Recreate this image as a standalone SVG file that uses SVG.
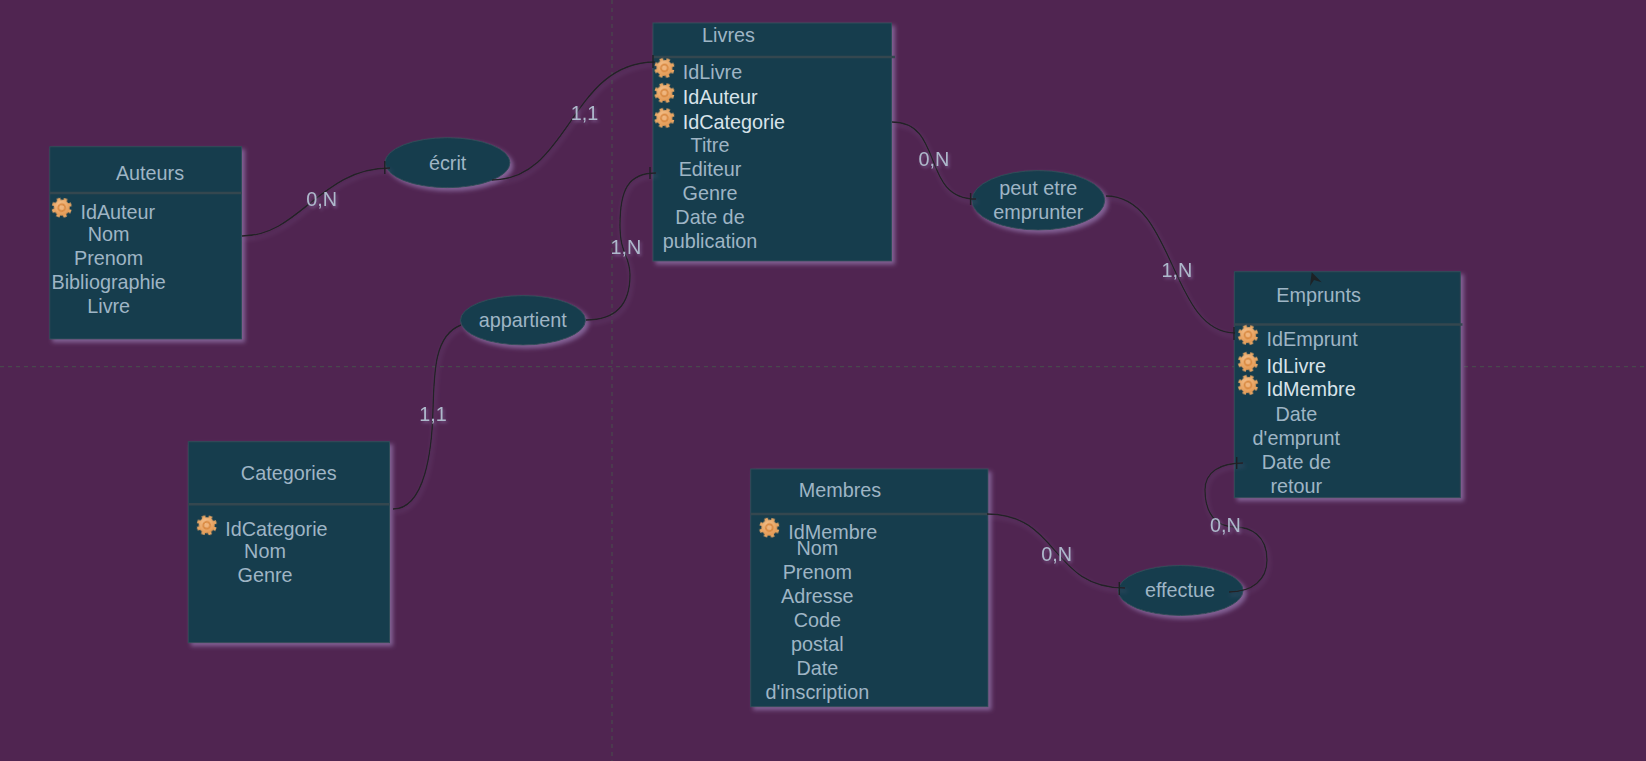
<svg xmlns="http://www.w3.org/2000/svg" xmlns:xlink="http://www.w3.org/1999/xlink" width="1646" height="761" viewBox="0 0 1646 761">
<style>
text{font-family:"Liberation Sans",Arial,sans-serif;font-size:19.8px;fill:#9fb5c5}
.m{text-anchor:middle}
.w{fill:#d8e3ea}
.box{fill:#193c4d;stroke:#2f4d58;stroke-width:1;filter:url(#sh)}
.div{stroke:#34474f;stroke-width:2.5;fill:none}
.edge{fill:none;stroke:#232125;stroke-width:1.4;filter:url(#lsh)}
.tick{fill:none;stroke:#1f2024;stroke-width:1.4}
.grid{stroke:#47504d;stroke-width:1;stroke-dasharray:4 4;fill:none}
.lab{text-anchor:middle;fill:#aeb9cc;filter:url(#tsh)}
</style>
<defs>
<filter id="sh" x="-10%" y="-10%" width="125%" height="125%"><feDropShadow dx="3" dy="3" stdDeviation="2.2" flood-color="#8f70a6" flood-opacity="0.8"/></filter>
<filter id="lsh" x="-10%" y="-10%" width="125%" height="125%"><feDropShadow dx="1.5" dy="3" stdDeviation="2" flood-color="#8f70a6" flood-opacity="0.4"/></filter>
<filter id="tsh" x="-20%" y="-20%" width="150%" height="150%"><feDropShadow dx="1.5" dy="2" stdDeviation="1.8" flood-color="#8f70a6" flood-opacity="0.55"/></filter>
<filter id="soft" x="-20%" y="-20%" width="140%" height="140%"><feGaussianBlur stdDeviation="0.35"/></filter>
<radialGradient id="gearFill" cx="40%" cy="35%" r="75%"><stop offset="0" stop-color="#f6c490"/><stop offset="1" stop-color="#e0924a"/></radialGradient>
<g id="gear" filter="url(#soft)" transform="rotate(12)">
<circle r="8.6" fill="none" stroke="#e9a764" stroke-width="3" stroke-dasharray="3.4 3.35"/>
<circle r="8" fill="url(#gearFill)"/>
<circle r="3.5" fill="none" stroke="#d98a42" stroke-width="1.8"/>
<circle r="1.9" fill="#efb57e"/>
</g>
</defs>
<rect width="1646" height="761" fill="#502551"/>
<g id="grid">
<line class="grid" x1="0" y1="366.7" x2="1646" y2="366.7"/>
<line class="grid" x1="612" y1="0" x2="612" y2="761"/>
</g>

<g id="auteurs">
<rect class="box" x="49.8" y="146.7" width="191.7" height="192.3"/>
<line class="div" x1="49.8" y1="193" x2="241.5" y2="193"/>
<text class="m" x="150" y="179.7">Auteurs</text>
<use href="#gear" xlink:href="#gear" x="61.7" y="207.7"/>
<text x="80.4" y="219">IdAuteur</text>
<text class="m" x="108.7" y="241">Nom</text>
<text class="m" x="108.7" y="265">Prenom</text>
<text class="m" x="108.7" y="289">Bibliographie</text>
<text class="m" x="108.7" y="313">Livre</text>
</g>

<g id="livres">
<rect class="box" x="653" y="23" width="238.5" height="238"/>
<line class="div" x1="653" y1="57" x2="895" y2="57"/>
<text class="m" x="728.5" y="41.7">Livres</text>
<use href="#gear" xlink:href="#gear" x="664.4" y="68"/>
<use href="#gear" xlink:href="#gear" x="664.4" y="93"/>
<use href="#gear" xlink:href="#gear" x="664.4" y="118"/>
<text x="682.8" y="79">IdLivre</text>
<text class="w" x="682.8" y="104">IdAuteur</text>
<text class="w" x="682.8" y="129">IdCategorie</text>
<text class="m" x="710" y="151.7">Titre</text>
<text class="m" x="710" y="175.7">Editeur</text>
<text class="m" x="710" y="200">Genre</text>
<text class="m" x="710" y="224">Date de</text>
<text class="m" x="710" y="248">publication</text>
</g>

<g id="categories">
<rect class="box" x="188.3" y="441.7" width="201.2" height="201"/>
<line class="div" x1="188.3" y1="504.3" x2="389.5" y2="504.3"/>
<text class="m" x="288.7" y="479.5">Categories</text>
<use href="#gear" xlink:href="#gear" x="206.7" y="525.3"/>
<text x="225.3" y="536">IdCategorie</text>
<text class="m" x="265" y="558">Nom</text>
<text class="m" x="265" y="582">Genre</text>
</g>

<g id="membres">
<rect class="box" x="750.7" y="469" width="237.3" height="237.7"/>
<line class="div" x1="750.7" y1="514" x2="988" y2="514"/>
<text class="m" x="840" y="496.7">Membres</text>
<use href="#gear" xlink:href="#gear" x="769.3" y="527.7"/>
<text x="788.3" y="539">IdMembre</text>
<text class="m" x="817.3" y="555.3">Nom</text>
<text class="m" x="817.3" y="579">Prenom</text>
<text class="m" x="817.3" y="603">Adresse</text>
<text class="m" x="817.3" y="627">Code</text>
<text class="m" x="817.3" y="651">postal</text>
<text class="m" x="817.3" y="675">Date</text>
<text class="m" x="817.3" y="699">d'inscription</text>
</g>

<g id="emprunts">
<rect class="box" x="1234.4" y="271.7" width="226" height="226"/>
<line class="div" x1="1234.4" y1="324.5" x2="1462.5" y2="324.5"/>
<text class="m" x="1318.7" y="301.7">Emprunts</text>
<use href="#gear" xlink:href="#gear" x="1248" y="335"/>
<use href="#gear" xlink:href="#gear" x="1248" y="362"/>
<use href="#gear" xlink:href="#gear" x="1248" y="385"/>
<text x="1266.6" y="346">IdEmprunt</text>
<text class="w" x="1266.6" y="372.7">IdLivre</text>
<text class="w" x="1266.6" y="395.7">IdMembre</text>
<text class="m" x="1296.3" y="420.7">Date</text>
<text class="m" x="1296.3" y="444.7">d'emprunt</text>
<text class="m" x="1296.3" y="468.7">Date de</text>
<text class="m" x="1296.3" y="492.7">retour</text>
<path id="cursor" d="M1311.7 272.3L1321.7 282.3L1314 280L1310 286Z" fill="#1d2226"/>
</g>

<g id="ecrit">
<ellipse class="box" cx="447.5" cy="162.7" rx="62.5" ry="25"/>
<text class="m" x="447.6" y="170">écrit</text>
</g>
<g id="appartient">
<ellipse class="box" cx="523" cy="320.3" rx="62.5" ry="24.7"/>
<text class="m" x="522.7" y="327.3">appartient</text>
</g>
<g id="peut-etre-emprunter">
<ellipse class="box" cx="1038.3" cy="200.3" rx="66.5" ry="29.7"/>
<text class="m" x="1038.3" y="195">peut etre</text>
<text class="m" x="1038.3" y="219">emprunter</text>
</g>
<g id="effectue">
<ellipse class="box" cx="1180.7" cy="590.5" rx="62.5" ry="25"/>
<text class="m" x="1180" y="597">effectue</text>
</g>

<g id="connectors">
<path class="edge" d="M242 236C300 236 320 168 390 168"/>
<path class="tick" d="M384.8 161V174"/>
<path class="edge" d="M492 180C570 180 570 62 655 62"/>
<path class="tick" d="M653 55V68"/>
<path class="edge" d="M586 320C615 320 630 305 630 275C630 255 620 255 620 225C620 190 628 173 656 173"/>
<path class="tick" d="M650 167V179"/>
<path class="edge" d="M393 509C425 509 432 450 433 410C434 370 435 335 461 325"/>
<path class="edge" d="M892 122C945 122 920 199 976 199"/>
<path class="tick" d="M970.6 193V205"/>
<path class="edge" d="M1106 196C1175 196 1170 333 1235 333"/>
<path class="tick" d="M1234 327V340"/>
<path class="edge" d="M1229 592C1252 592 1267 580 1267 560C1267 535 1250 527 1235 527C1215 527 1205 512 1205 490C1205 472 1220 463 1243 463"/>
<path class="tick" d="M1236.7 457V469"/>
<path class="edge" d="M987 514C1060 514 1050 588 1125 588"/>
<path class="tick" d="M1119.3 582V595"/>
<text class="lab" x="321.6" y="206">0,N</text>
<text class="lab" x="584.5" y="120">1,1</text>
<text class="lab" x="626" y="254">1,N</text>
<text class="lab" x="934" y="166">0,N</text>
<text class="lab" x="1177" y="277">1,N</text>
<text class="lab" x="433" y="421">1,1</text>
<text class="lab" x="1225.3" y="532">0,N</text>
<text class="lab" x="1056.7" y="561">0,N</text>
</g>
</svg>
